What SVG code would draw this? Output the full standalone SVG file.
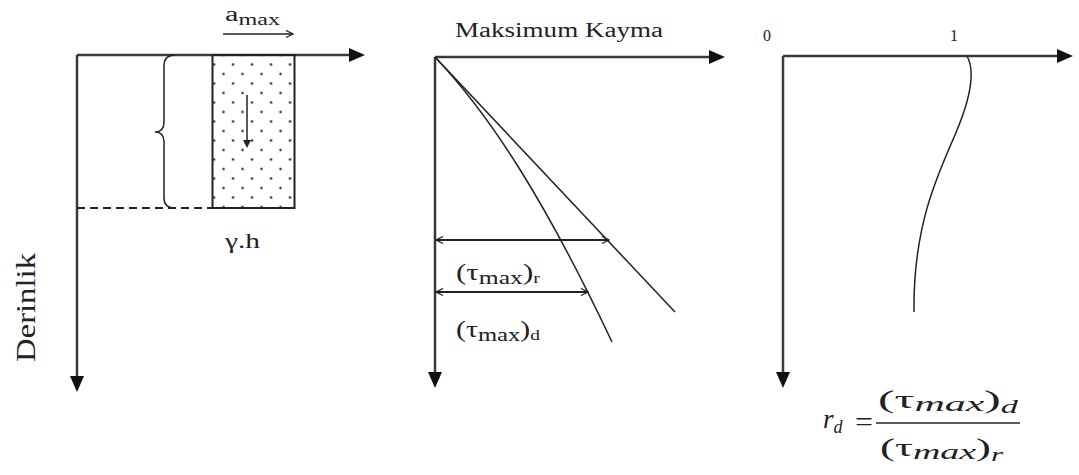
<svg xmlns="http://www.w3.org/2000/svg" width="1079" height="475" viewBox="0 0 1079 475">
<style>
.ax{stroke:#3a3a3a;stroke-width:2.5;fill:none}
.thin{stroke:#222;stroke-width:1.5;fill:none}
.t{font-family:"Liberation Serif","Times New Roman",serif;fill:#222}
.m{font-family:"Liberation Serif","Times New Roman",serif;fill:#222;font-style:italic}
</style>
<defs>
<marker id="ah" markerUnits="userSpaceOnUse" markerWidth="16" markerHeight="14" viewBox="0 0 16 14" refX="0" refY="7" orient="auto">
<path d="M0,0 L16,7 L0,14 Z" fill="#111"/>
</marker>
<marker id="ahs" markerUnits="userSpaceOnUse" markerWidth="8" markerHeight="8" viewBox="0 0 8 8" refX="1" refY="4" orient="auto">
<path d="M0,0 L8,4 L0,8 Z" fill="#222"/>
</marker>
<marker id="oa" markerUnits="userSpaceOnUse" markerWidth="9" markerHeight="9" viewBox="0 0 9 9" refX="8" refY="4.5" orient="auto-start-reverse">
<path d="M1,1 L8,4.5 L1,8" fill="none" stroke="#222" stroke-width="1.3"/>
</marker>
<pattern id="dots" patternUnits="userSpaceOnUse" x="218.75" y="50.25" width="19" height="19">
<circle cx="4.75" cy="4.75" r="1.2" fill="#222"/>
<circle cx="14.25" cy="14.25" r="1.2" fill="#222"/>
</pattern>
</defs>

<g id="panel1">
<g id="axes1">
<line class="ax" x1="77" y1="55" x2="349" y2="55" marker-end="url(#ah)"/>
<line class="ax" x1="77" y1="55" x2="77" y2="376" marker-end="url(#ah)"/>
</g>
<g id="soil-column">
<rect x="212.5" y="55" width="82" height="153" fill="url(#dots)" stroke="#222" stroke-width="2"/>
<line x1="247" y1="95" x2="247" y2="141" stroke="#222" stroke-width="1.5" marker-end="url(#ahs)"/>
</g>
<line id="depth-line" x1="77" y1="208" x2="212" y2="208" stroke="#222" stroke-width="2" stroke-dasharray="8,5"/>
<path id="brace" class="thin" d="M175,55 Q164,55 164,66 L164,122 Q164,132 155,132 Q164,132 164,142 L164,198 Q164,208 175,208"/>
<g id="amax">
<text class="t" x="225" y="21" font-size="20" textLength="55" lengthAdjust="spacingAndGlyphs">a<tspan font-size="16" dy="4">max</tspan></text>
<line x1="223" y1="34" x2="293" y2="34" stroke="#222" stroke-width="1.5" marker-end="url(#oa)"/>
</g>
<text id="gh" class="t" x="225" y="248" font-size="21" textLength="35" lengthAdjust="spacingAndGlyphs">γ.h</text>
<text id="derinlik" class="t" font-size="28" transform="translate(35,362) rotate(-90)" textLength="109" lengthAdjust="spacingAndGlyphs">Derinlik</text>
</g>

<g id="panel2">
<g id="axes2">
<line class="ax" x1="435" y1="57" x2="709" y2="57" marker-end="url(#ah)"/>
<line class="ax" x1="435" y1="57" x2="435" y2="372" marker-end="url(#ah)"/>
</g>
<text id="kayma" class="t" x="455" y="37" font-size="20" textLength="208" lengthAdjust="spacingAndGlyphs">Maksimum Kayma</text>
<line id="rigid-line" class="thin" x1="435" y1="57" x2="675" y2="312"/>
<path id="deform-curve" class="thin" d="M435,57 C490,115 545,200 612,342"/>
<g id="dims">
<line x1="436" y1="240" x2="609" y2="240" stroke="#222" stroke-width="2" marker-start="url(#oa)" marker-end="url(#oa)"/>
<line x1="436" y1="292" x2="588" y2="292" stroke="#222" stroke-width="2" marker-start="url(#oa)" marker-end="url(#oa)"/>
</g>
<text id="tau-r" class="t" x="456" y="280" font-size="23" textLength="84" lengthAdjust="spacingAndGlyphs">(τ<tspan font-size="19" dy="4">max</tspan><tspan dy="-4">)</tspan><tspan font-size="15" dy="3">r</tspan></text>
<text id="tau-d" class="t" x="456" y="337" font-size="23" textLength="84" lengthAdjust="spacingAndGlyphs">(τ<tspan font-size="19" dy="4">max</tspan><tspan dy="-4">)</tspan><tspan font-size="15" dy="3">d</tspan></text>
</g>

<g id="panel3">
<g id="axes3">
<line class="ax" x1="783" y1="56" x2="1057" y2="56" marker-end="url(#ah)"/>
<line class="ax" x1="783" y1="56" x2="783" y2="372" marker-end="url(#ah)"/>
</g>
<text class="t" x="763" y="41" font-size="16">0</text>
<text class="t" x="950" y="41" font-size="16">1</text>
<path id="rd-curve" class="thin" d="M967,56 C976,72 970,100 955,135 C935,180 913,230 914,312"/>
<g id="formula">
<text class="m" x="823" y="428" font-size="27">r<tspan font-size="18" dy="5">d</tspan></text>
<text class="t" x="855" y="431" font-size="28" textLength="18" lengthAdjust="spacingAndGlyphs">=</text>
<line x1="876" y1="423" x2="1020" y2="423" stroke="#222" stroke-width="1.5"/>
<text class="t" x="878" y="408" font-size="26" textLength="140" lengthAdjust="spacingAndGlyphs">(τ<tspan class="m" font-size="22" dy="3">max</tspan><tspan dy="-3">)</tspan><tspan class="m" font-size="18" dy="5">d</tspan></text>
<text class="t" x="880" y="456" font-size="26" textLength="123" lengthAdjust="spacingAndGlyphs">(τ<tspan class="m" font-size="22" dy="3">max</tspan><tspan dy="-3">)</tspan><tspan class="m" font-size="18" dy="5">r</tspan></text>
</g>
</g>
</svg>
